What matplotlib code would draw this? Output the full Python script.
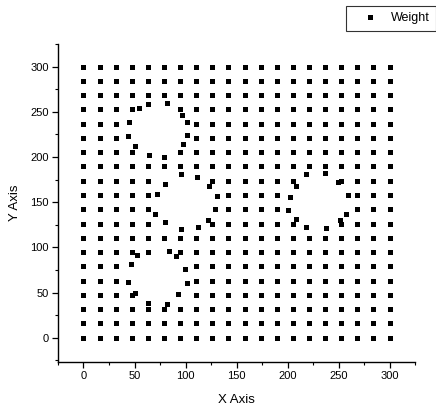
import matplotlib
matplotlib.use("Agg")
import matplotlib.pyplot as plt
import numpy as np

plt.rcParams["font.family"] = ["Liberation Sans", "DejaVu Sans"]

# Regular lattice positions, same on both axes (20 x 20 nodes from 0 to 300).
grid_values = [0, 15.8, 31.6, 47.4, 63.2, 78.9, 94.7, 110.5, 126.3, 142.1,
               157.9, 173.7, 189.5, 205.3, 221.1, 236.8, 252.6, 268.4, 284.2, 300]

# Lattice nodes (column, row) that are pushed out of the four holes.
removed_nodes = [
    # upper-left hole
    (4, 16), (5, 16), (3, 15), (4, 15), (5, 15), (6, 15),
    (3, 14), (4, 14), (5, 14), (6, 14), (4, 13), (5, 13),
    # middle hole
    (5, 8), (6, 8), (7, 8), (5, 9), (6, 9), (7, 9), (8, 9),
    (5, 10), (6, 10), (7, 10), (8, 10), (5, 11), (6, 11), (7, 11),
    # right hole
    (14, 11), (15, 11), (13, 10), (14, 10), (15, 10), (16, 10),
    (13, 9), (14, 9), (15, 9), (16, 9), (14, 8), (15, 8),
    # lower-left hole
    (5, 6), (3, 5), (4, 5), (5, 5), (6, 5), (3, 4), (4, 4), (5, 4), (6, 4),
    (4, 3), (5, 3), (6, 3),
]

# Where the pushed-out points ended up.
moved_x = [54.5, 63.6, 81.6, 96.8, 101.1, 101.9, 97.2, 50.8, 45.0, 43.4, 64.6, 78.9,
           95.3, 110.9, 123.3, 79.9, 72.4, 70.1, 79.9, 95.3, 112.5, 122.3, 131.1, 128.8,
           218.5, 236.4, 208.1, 249.4, 202.2, 259.2, 200.5, 257.7, 208.1, 217.8, 238.1, 251.1,
           52.2, 83.8, 90.7, 46.4, 99.5, 43.4, 101.1, 50.6, 92.9, 63.0, 81.4]
moved_y = [253.8, 258.9, 259.7, 246.3, 238.2, 224.1, 213.9, 211.7, 238.9, 223.2, 201.9, 200.4,
           181.6, 177.4, 167.4, 170.4, 158.6, 137.1, 127.8, 120.4, 122.2, 130.4, 156.3, 142.1,
           180.8, 182.2, 167.4, 172.2, 155.6, 158.2, 140.8, 137.1, 131.6, 122.2, 121.6, 129.7,
           91.6, 95.6, 90.8, 81.6, 76.0, 61.1, 60.4, 49.3, 48.2, 38.6, 36.9]

# Build the lattice and drop the nodes that moved.
keep = [(i, j) for j in range(len(grid_values)) for i in range(len(grid_values))
        if (i, j) not in removed_nodes]
x = np.array([grid_values[i] for i, j in keep] + moved_x)
y = np.array([grid_values[j] for i, j in keep] + moved_y)

fig = plt.figure(figsize=(4.36, 4.11), dpi=100)
ax = fig.add_axes([0.133, 0.119, 0.819, 0.774])

ax.plot(x, y, linestyle="none", marker="s", markersize=3.6, markeredgewidth=0,
        color="black", label="Weight")

ax.set_xlim(-25, 325)
ax.set_ylim(-27, 323)
ax.set_xticks(range(0, 301, 50))
ax.set_yticks(range(0, 301, 50))
ax.set_xticks(range(-25, 326, 25), minor=True)
ax.set_yticks(range(-25, 326, 25), minor=True)

ax.spines["top"].set_visible(False)
ax.spines["right"].set_visible(False)
ax.spines["left"].set_linewidth(1.0)
ax.spines["bottom"].set_linewidth(1.0)
ax.tick_params(which="major", direction="out", length=4.5, width=0.9,
               labelsize=8, pad=2)
ax.tick_params(which="minor", direction="out", length=2.5, width=0.8)

ax.set_xlabel("X Axis", fontsize=9.5, labelpad=9)
ax.set_ylabel("Y Axis", fontsize=9.5, labelpad=7)

leg = fig.legend(loc="upper left", bbox_to_anchor=(0.794, 0.985),
                 fontsize=9, frameon=True, fancybox=False, edgecolor="black",
                 handlelength=2.8, handletextpad=0.3, borderpad=0.5,
                 borderaxespad=0.0)
leg.get_frame().set_linewidth(0.8)

fig.savefig("out.png", dpi=100)
